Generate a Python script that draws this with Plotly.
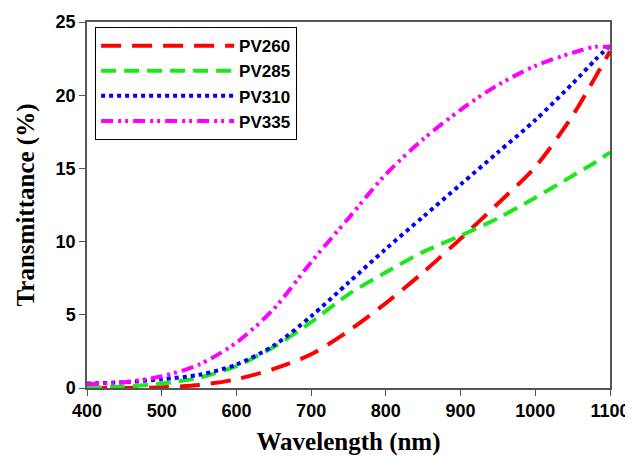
import plotly.graph_objects as go

# Longueurs d'onde (nm)
wavelength = [400, 450, 500, 550, 600, 650, 700, 750, 800, 850, 900, 950, 1000, 1050, 1080, 1100]

# Transmittance (%)
pv260 = [0.0, 0.0, 0.05, 0.2, 0.6, 1.3, 2.3, 3.9, 5.8, 7.9, 10.2, 12.6, 15.1, 18.6, 21.2, 23.0]
pv285 = [0.0, 0.1, 0.3, 0.7, 1.5, 2.8, 4.5, 6.4, 7.9, 9.3, 10.4, 11.6, 13.0, 14.5, 15.4, 16.1]
pv310 = [0.3, 0.4, 0.6, 0.9, 1.6, 2.9, 4.9, 7.2, 9.5, 11.7, 13.9, 16.1, 18.3, 20.8, 22.4, 23.4]
pv335 = [0.25, 0.4, 0.8, 1.6, 3.1, 5.4, 8.6, 11.6, 14.6, 17.0, 19.0, 20.7, 22.0, 22.9, 23.3, 23.3]

series = [
    ("PV260", pv260, "#ff0000", "20px,11px"),
    ("PV285", pv285, "#1ee61e", "15px,8px"),
    ("PV310", pv310, "#0000ff", "4px,4px"),
    ("PV335", pv335, "#ff00ff", "12px,5px,3px,4px,3px,5px"),
]

fig = go.Figure()
for name, vals, color, dash in series:
    fig.add_trace(go.Scatter(
        x=wavelength, y=vals, name=name, mode="lines",
        line=dict(color=color, width=4, dash=dash, shape="spline", smoothing=0.8),
    ))

axis_common = dict(
    showgrid=False, zeroline=False, showline=True, mirror=True,
    linecolor="#555555", linewidth=1.5, automargin=False,
    ticks="outside", ticklen=6, tickcolor="#555555",
    tickfont=dict(family="Liberation Sans, Arial", size=18, color="black", weight="bold"),
)

title_font = dict(family="Liberation Serif, Times New Roman", size=25, color="black", weight="bold")

# la page ajoute une marge de 8 px autour de la figure
fig.update_layout(
    width=625, height=462,
    paper_bgcolor="white", plot_bgcolor="white",
    margin=dict(l=79, r=23, t=14, b=82),
    xaxis=dict(range=[400, 1100], dtick=100, **axis_common,
               title=dict(text="Wavelength (nm)", standoff=12, font=title_font)),
    yaxis=dict(range=[0, 25], dtick=5, **axis_common,
               title=dict(text="Transmittance (%)", standoff=14, font=title_font)),
    legend=dict(
        x=0.0155, y=0.986, xanchor="left", yanchor="top",
        bordercolor="black", borderwidth=1, bgcolor="white",
        font=dict(family="Liberation Sans, Arial", size=17, color="black", weight="bold"),
        itemwidth=133, tracegroupgap=0,
    ),
)

fig.write_html("out.html")
